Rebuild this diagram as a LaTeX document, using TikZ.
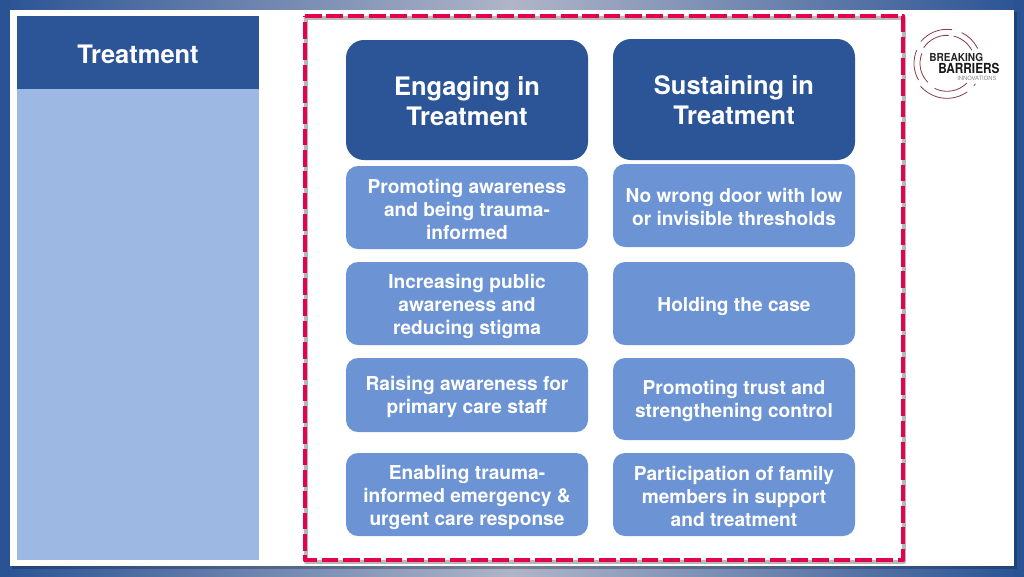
\documentclass[tikz,border=0pt]{standalone}
\usepackage{graphicx}
\usepackage{fontspec}
\setmainfont{TeX Gyre Heros}
\definecolor{navy}{HTML}{2C5597}
\definecolor{mid}{HTML}{6C93D3}
\definecolor{pale}{HTML}{9DB8E2}
\definecolor{crim}{HTML}{E4024F}
\definecolor{edgeblue}{HTML}{2A5394}
\definecolor{edgegray}{HTML}{B0B5C8}
\definecolor{logored}{HTML}{8A3A4C}
\newcommand{\logoarc}[3]{\draw[logoline] ([shift={(#1:#3)}]947,63.3) arc[start angle=#1,end angle=#2,radius=#3];}
\tikzset{
  x=0.75pt,y=-0.75pt,
  head/.style={rounded corners=13.5pt,fill=navy,minimum width=181.5pt,inner sep=0pt},
  headtext/.style={text=white,font=\bfseries\fontsize{19.1}{22.5}\selectfont,align=center,inner sep=0pt},
  item/.style={rounded corners=9pt,fill=mid,minimum width=181.5pt,inner sep=0pt},
  itemtext/.style={text=white,font=\bfseries\fontsize{14.35}{17.3}\selectfont,align=center,inner sep=0pt},
  logoline/.style={logored,line width=0.6pt,line cap=round},
}
\begin{document}
\begin{tikzpicture}
\useasboundingbox (0,0) rectangle (1024,576);
% background
\shade[left color=edgeblue,right color=edgeblue,middle color=edgegray,shading angle=90] (0,0) rectangle (1024,576);
\fill[edgeblue] (0,0) rectangle (10,576);
\fill[edgeblue] (1014,0) rectangle (1024,576);
\fill[black!55!edgeblue,opacity=.35] (12,12) rectangle (1017,569);
\fill[white] (10,10) rectangle (1014,566);
% left panel
\fill[pale] (17,89) rectangle (259,560);
\fill[navy] (17,16) rectangle (259,89);
\node[text=white,font=\bfseries\fontsize{19.1}{22}\selectfont] (title) at (138,54) {Treatment};
% dashed frame
\draw[black!28,line width=3pt,line join=round] (306,17.5) rectangle (904,561.5);
\draw[crim,line width=3.7pt,line join=round,dash pattern=on 12.4pt off 3.6pt] (305,16) -- (903,16) -- (903,560) -- (305,560) -- cycle;
% headers
\node[head,minimum height=90pt] (eng) at (467,100) {};
\node[headtext] (engt) at ([yshift=-0.75pt]eng) {Engaging in\\Treatment};
\node[head,minimum height=90.75pt] (sus) at (734,99.5) {};
\node[headtext] (sust) at ([yshift=-0.75pt]sus) {Sustaining in\\Treatment};
% items left
\node[item,minimum height=62.25pt] (l1) at (467,207.5) {};
\node[itemtext] (l1t) at ([yshift=-1.25pt]l1) {Promoting awareness\\and being trauma-\\informed};
\node[item,minimum height=62.25pt] (l2) at (467,303.5) {};
\node[itemtext] (l2t) at ([yshift=-2pt]l2) {Increasing public\\awareness and\\reducing stigma};
\node[item,minimum height=55.5pt] (l3) at (467,395) {};
\node[itemtext] (l3t) at ([yshift=-1.5pt]l3) {Raising awareness for\\primary care staff};
\node[item,minimum height=62.25pt] (l4) at (467,494.5) {};
\node[itemtext] (l4t) at ([yshift=-2pt]l4) {Enabling trauma-\\informed emergency \&\\urgent care response};
% items right
\node[item,minimum height=62.25pt] (r1) at (734,205.5) {};
\node[itemtext] (r1t) at ([yshift=-0.75pt]r1) {No wrong door with low\\or invisible thresholds};
\node[item,minimum height=62.25pt] (r2) at (734,303.5) {};
\node[itemtext] (r2t) at ([yshift=-2pt]r2) {Holding the case};
\node[item,minimum height=61.5pt] (r3) at (734,399) {};
\node[itemtext] (r3t) at ([yshift=-1.75pt]r3) {Promoting trust and\\strengthening control};
\node[item,minimum height=62.25pt] (r4) at (734,494.5) {};
\node[itemtext] (r4t) at ([yshift=-1.25pt]r4) {Participation of family\\members in support\\and treatment};
% logo
\logoarc{220}{278}{34}
\logoarc{296}{334}{34}
\logoarc{150}{203}{33}
\logoarc{55}{139}{35}
\logoarc{214}{273}{28}
\logoarc{284}{332}{28}
\logoarc{135}{201}{27}
\logoarc{45}{116}{28}
\logoarc{36}{40}{35}
\node[anchor=west,inner sep=0pt,font=\bfseries\fontsize{8.3}{9}\selectfont,text=black!85] (lg1) at (929,57.5) {\scalebox{0.91}[1]{BREAKING}};
\node[anchor=west,inner sep=0pt,font=\bfseries\fontsize{10.4}{11}\selectfont,text=black!90] (lg2) at (938,68) {\scalebox{0.85}[1]{BARRIERS}};
\node[anchor=west,inner sep=0pt,font=\fontsize{4.4}{5}\selectfont,text=black!45] (lg3) at (957,78) {INNOVATIONS};
\end{tikzpicture}
\end{document}
